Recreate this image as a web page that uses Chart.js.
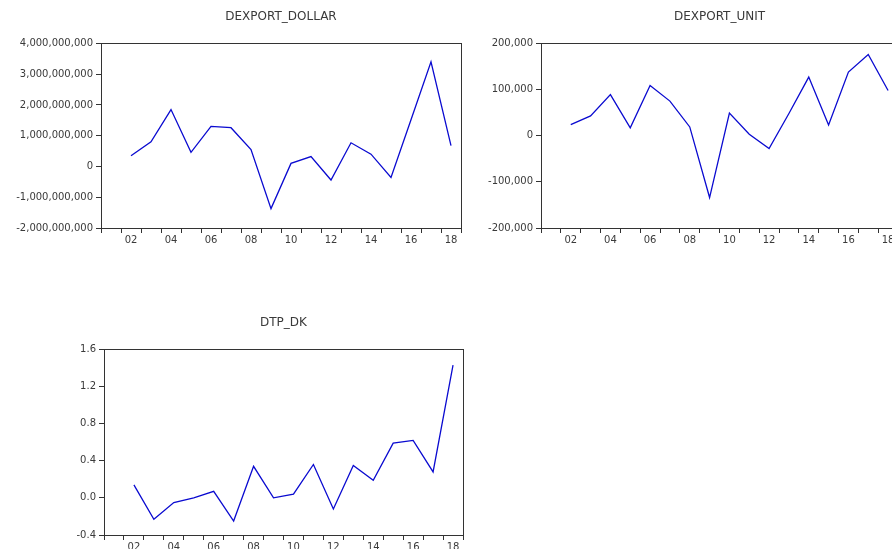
<!DOCTYPE html>
<html>
<head>
<meta charset="utf-8">
<script src="https://cdn.jsdelivr.net/npm/chart.js@4"></script>
<style>
  html, body { margin: 0; padding: 0; background: #fff; overflow: hidden; width: 892px; height: 549px; }
  canvas { position: absolute; }
</style>
</head>
<body>
<canvas id="c1" style="left:0px;top:0px"></canvas>
<canvas id="c2" style="left:470px;top:0px"></canvas>
<canvas id="c3" style="left:0px;top:290px"></canvas>
<script>
// years on the x axis (2001 has no value, the series are differenced)
const years = ['2001', '2002', '2003', '2004', '2005', '2006', '2007', '2008', '2009',
  '2010', '2011', '2012', '2013', '2014', '2015', '2016', '2017', '2018'];

// series
const dexportDollar = [null, 0.35e9, 0.80e9, 1.85e9, 0.46e9, 1.30e9, 1.26e9, 0.55e9, -1.37e9,
  0.10e9, 0.32e9, -0.44e9, 0.77e9, 0.40e9, -0.36e9, 1.52e9, 3.40e9, 0.68e9];
const dexportUnit = [null, 24000, 43000, 89000, 17000, 109000, 75000, 19000, -134000,
  49000, 3000, -28000, 48000, 127000, 23000, 138000, 176000, 98000];
const dtpDk = [null, 0.14, -0.23, -0.05, 0.00, 0.07, -0.25, 0.34, 0.00,
  0.04, 0.36, -0.12, 0.35, 0.19, 0.59, 0.62, 0.28, 1.43];

// y axis ranges
const dollarTicks = [-2e9, -1e9, 0, 1e9, 2e9, 3e9, 4e9];
const unitTicks = [-200000, -100000, 0, 100000, 200000];
const dkTicks = [-0.4, 0.0, 0.4, 0.8, 1.2, 1.6];

const textColor = '#3a3a3a';
const axisColor = '#333';
const fontFamily = '"DejaVu Sans", Arial, sans-serif';

// box around the plot area, like the original graphs
const frame = {
  id: 'frame',
  afterDraw(chart) {
    const a = chart.chartArea;
    const ctx = chart.ctx;
    ctx.save();
    ctx.strokeStyle = axisColor;
    ctx.lineWidth = 1;
    ctx.strokeRect(Math.round(a.left) + 0.5, Math.round(a.top) + 0.5,
      Math.round(a.right - a.left), Math.round(a.bottom - a.top));
    ctx.restore();
  }
};

function makeChart(id, w, h, title, values, yTicks, yFmt, yWidth, padTop) {
  const canvas = document.getElementById(id);
  canvas.width = w;
  canvas.height = h;
  return new Chart(canvas, {
    type: 'line',
    data: {
      labels: years,
      datasets: [{
        data: values,
        borderColor: '#0a0ad0',
        borderWidth: 1.3,
        pointRadius: 0,
        tension: 0,
        fill: false
      }]
    },
    options: {
      responsive: false,
      animation: false,
      devicePixelRatio: 1,
      layout: { padding: { top: 0, right: 9, bottom: 0, left: 0 } },
      plugins: {
        legend: { display: false },
        tooltip: { enabled: false },
        title: {
          display: true,
          text: title,
          fullSize: false,
          color: textColor,
          font: { family: fontFamily, size: 12, weight: 'normal' },
          padding: { top: padTop - 7, bottom: 19 }
        }
      },
      scales: {
        x: {
          type: 'category',
          offset: true,
          afterFit(scale) { scale.height = 30; },
          grid: { offset: true, drawOnChartArea: false, drawTicks: true, tickLength: 5, color: axisColor },
          border: { display: false },
          ticks: {
            autoSkip: false,
            maxRotation: 0,
            padding: 1,
            color: textColor,
            font: { family: fontFamily, size: 10 },
            callback(v, i) {
              const y = parseInt(years[i], 10);
              return y % 2 === 0 ? years[i].slice(2) : '';
            }
          }
        },
        y: {
          min: yTicks[0],
          max: yTicks[yTicks.length - 1],
          afterFit(scale) { scale.width = yWidth; },
          afterBuildTicks(scale) { scale.ticks = yTicks.map(v => ({ value: v })); },
          grid: { drawOnChartArea: false, drawTicks: true, tickLength: 5, color: axisColor },
          border: { display: false },
          ticks: {
            padding: 3,
            color: textColor,
            font: { family: fontFamily, size: 10 },
            callback: yFmt
          }
        }
      }
    },
    plugins: [frame]
  });
}

const withCommas = v => Number(v).toLocaleString('en-US');
const oneDecimal = v => Number(v).toFixed(1);

makeChart('c1', 470, 258, 'DEXPORT_DOLLAR', dexportDollar, dollarTicks, withCommas, 101, 17);
makeChart('c2', 437, 258, 'DEXPORT_UNIT', dexportUnit, unitTicks, withCommas, 71, 17);
makeChart('c3', 472, 275, 'DTP_DK', dtpDk, dkTicks, oneDecimal, 104, 33);
</script>
</body>
</html>
